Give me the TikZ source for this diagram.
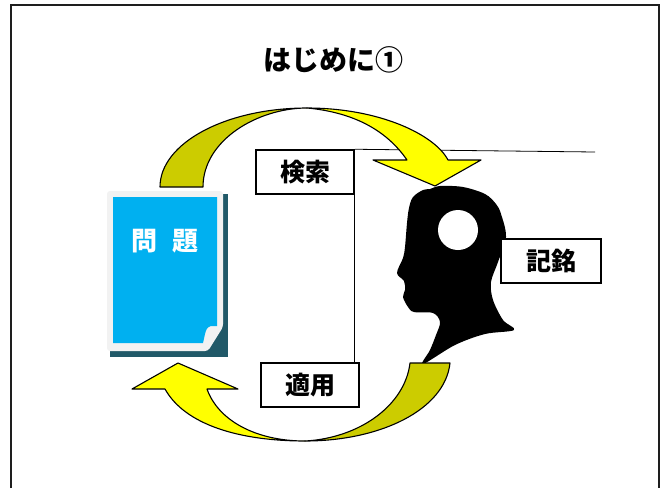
\documentclass[tikz,border=0pt]{standalone}
\usepackage{fontspec}
\setmainfont{Noto Sans CJK JP}
\usepackage{tikz}
\usetikzlibrary{positioning,calc}
\definecolor{arrowyellow}{HTML}{FFFF00}
\definecolor{arrowolive}{HTML}{CCCC00}
\definecolor{pageblue}{HTML}{00B0F0}
\definecolor{pagegray}{HTML}{F2F2F2}
\definecolor{pageshadow}{HTML}{215968}
\definecolor{framegray}{HTML}{1E1E1E}

\begin{document}
\begin{tikzpicture}[x=1pt, y=-1pt,
    labelbox/.style={rectangle, draw, line width=1.5pt, fill=white, minimum width=98pt, minimum height=44pt, inner sep=0pt, font=\bfseries\fontsize{25}{27}\selectfont},
    band/.style={draw=black, line width=1.1pt, line join=round},
    link/.style={draw=black, line width=0.8pt}
]
    \useasboundingbox (0,0) rectangle (666,488);

    % Slide frame and title
    \draw[framegray, line width=2pt] (11,488) -- (11,5) -- (659,5) -- (659,488);
    \node[font=\bfseries\fontsize{28}{30}\selectfont] (title) at (333,60) {はじめに①};

    % Head silhouette
    \fill[black] plot[smooth cycle, tension=0.55] coordinates {
        (423,190) (413,197) (409,208) (407,223) (405,247) (403,258) (397,273)
        (404,281) (405,290) (403,297) (408,307) (414,312) (433,313) (440,322)
        (436,335) (430,350) (423,364) (455,345) (485,334) (514,330) (503,320)
        (493,300) (491,282) (498,262) (506,237) (501,214) (496,204) (485,194)
        (463,187) (440,186) (430,189)};
    \fill[white] (458,230) circle (20);

    % Label boxes and their lines
    \node[labelbox] (kensaku) at (305,172) {検索};
    \node[labelbox] (tekiyo) at (310,385) {適用};
    \node[labelbox, minimum width=100pt] (kimei) at (551,261) {記銘};
    \coordinate (kensakuend) at (595,152);
    \draw[link] (kensaku.north east) -- (kensakuend);
    \draw[link] (kensaku.south east) -- (kensaku.south east |- tekiyo.north);

    % Top curved arrow (Kensaku)
    \path[band, fill=arrowolive] (160,187) .. controls (160,143) and (226,108) .. (307,108)
        .. controls (258,108) and (203,140) .. (203,187) -- cycle;
    \path[band, fill=arrowyellow] (307,108) .. controls (380,108) and (435,135) .. (448,160)
        -- (481,160) -- (435,186) -- (373,160) -- (407,160)
        .. controls (385,128) and (350,112) .. (307,108) -- cycle;

    % Problem sheet
    \fill[pageshadow] (110,194) rectangle (228,357);
    \fill[pagegray, rounded corners=3pt] (107,191) -- (223,191) -- (223,327) -- (208,351) -- (107,351) -- cycle;
    \fill[pageblue] (113,197) -- (217,197) -- (217,326) -- (211,326)
        .. controls (207,327) and (206,330) .. (205,334) -- (203,343) -- (113,343) -- cycle;
    \node[font=\bfseries\fontsize{26}{28}\selectfont, text=white] (mondai) at (165,241) {問\hspace{0.6em}題};

    % Bottom curved arrow (Tekiyo)
    \path[band, fill=arrowolive] (410,363) -- (450,363) .. controls (445,410) and (380,441) .. (305,441)
        .. controls (360,438) and (405,405) .. (410,363) -- cycle;
    \path[band, fill=arrowyellow] (305,441) .. controls (240,441) and (185,425) .. (165,389)
        -- (132,389) -- (178,363) -- (238,389) -- (207,389)
        .. controls (218,420) and (255,441) .. (305,441) -- cycle;

\end{tikzpicture}
\end{document}
